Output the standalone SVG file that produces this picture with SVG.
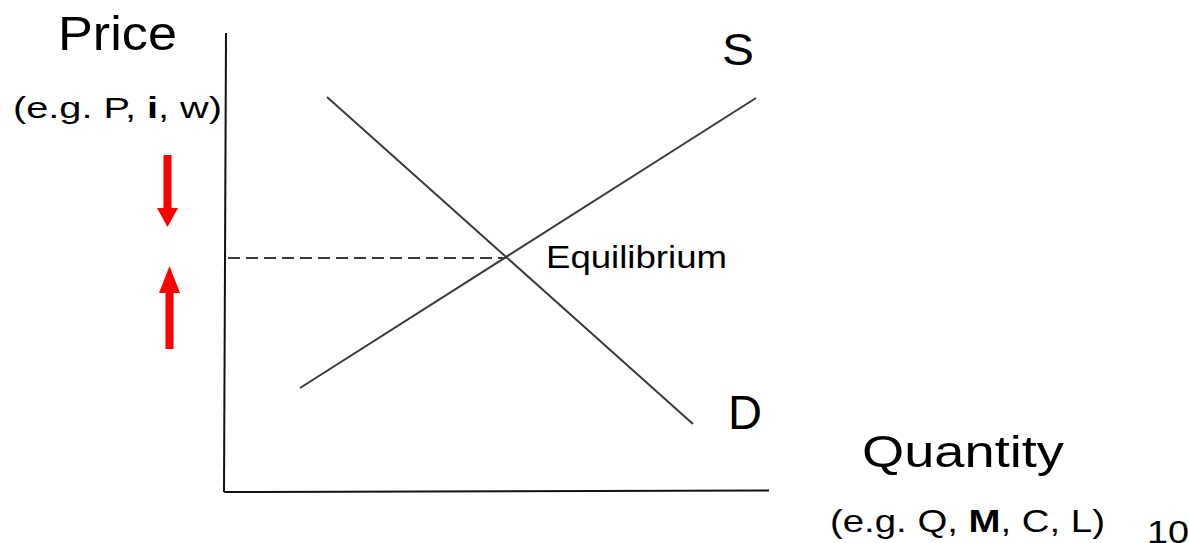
<svg xmlns="http://www.w3.org/2000/svg" width="1189" height="543" viewBox="0 0 1189 543">
<style>
text{font-family:"Liberation Sans",Arial,sans-serif;fill:#000}
.axis{stroke:#111;stroke-width:2;fill:none}
.curve{stroke:#3a3a3a;stroke-width:2;fill:none}
.dash{stroke:#3a3a3a;stroke-width:2;stroke-dasharray:12 6;fill:none}
.red{fill:#ff0000}
</style>
<rect width="1189" height="543" fill="#fff"/>
<g id="axes">
<line class="axis" x1="226" y1="33" x2="224" y2="492"/>
<line class="axis" x1="224" y1="492" x2="769" y2="490.5"/>
</g>
<g id="connectors">
<line id="supply" class="curve" x1="300" y1="388" x2="756" y2="98"/>
<line id="demand" class="curve" x1="327" y1="97" x2="693" y2="424"/>
<line id="eq-dash" class="dash" x1="228" y1="258" x2="506" y2="258"/>
</g>
<g id="arrow-down">
<polygon class="red" points="163.5,155 171.5,155 171.5,208 178,208 167.5,227 157,208 163.5,208"/>
</g>
<g id="arrow-up">
<polygon class="red" points="165.5,349 173.5,349 173.5,293 180,293 169.5,266 159,293 165.5,293"/>
</g>
<g id="label-price">
<text x="58" y="50" font-size="49" textLength="119" lengthAdjust="spacingAndGlyphs">Price</text>
<text x="13" y="118" font-size="30" textLength="209" lengthAdjust="spacingAndGlyphs">(e.g. P, <tspan font-weight="bold">i</tspan>, w)</text>
</g>
<g id="label-s"><text x="722" y="65" font-size="45" textLength="32" lengthAdjust="spacingAndGlyphs">S</text></g>
<g id="label-eq"><text x="546" y="268" font-size="32" textLength="181" lengthAdjust="spacingAndGlyphs">Equilibrium</text></g>
<g id="label-d"><text x="728" y="429" font-size="48" textLength="34" lengthAdjust="spacingAndGlyphs">D</text></g>
<g id="label-quantity">
<text x="862" y="467" font-size="45" textLength="202" lengthAdjust="spacingAndGlyphs">Quantity</text>
<text x="830" y="532" font-size="32" textLength="275" lengthAdjust="spacingAndGlyphs">(e.g. Q, <tspan font-weight="bold">M</tspan>, C, L)</text>
</g>
<g id="page-number"><text x="1147" y="543" font-size="32" textLength="42" lengthAdjust="spacingAndGlyphs">10</text></g>
</svg>
